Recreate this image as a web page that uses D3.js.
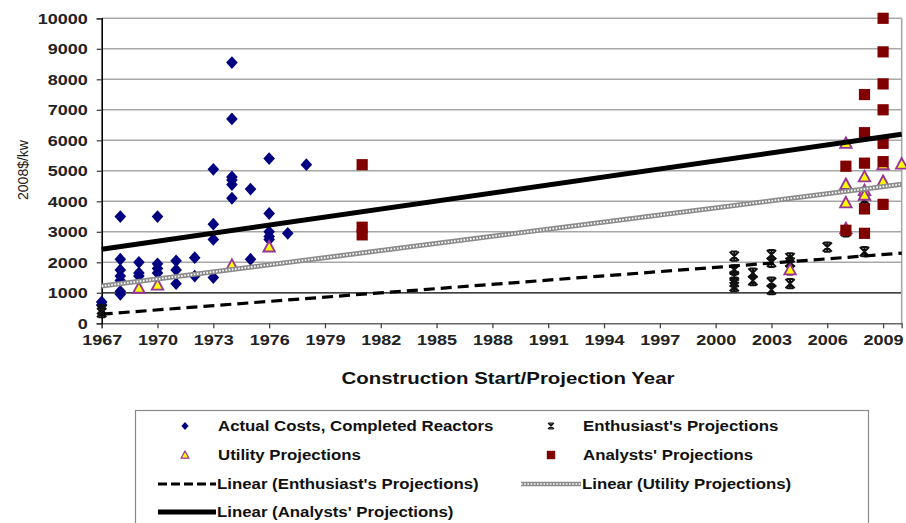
<!DOCTYPE html>
<html><head><meta charset="utf-8">
<script src="https://cdn.jsdelivr.net/npm/d3@7"></script>
<style>body{margin:0;background:#fff}svg{display:block}text{font-family:"Liberation Sans",Arial,sans-serif}</style>
</head><body>
<script>
// ---- data ----
const xTicks = [1967,1970,1973,1976,1979,1982,1985,1988,1991,1994,1997,2000,2003,2006,2009];
const yTicks = [0,1000,2000,3000,4000,5000,6000,7000,8000,9000,10000];
const actualCosts = [
 [1967,700],[1967,600],
 [1968,3500],[1968,2100],[1968,1750],[1968,1550],[1968,1400],[1968,1050],[1968,950],
 [1969,2000],[1969,1650],[1969,1550],
 [1970,3500],[1970,1950],[1970,1800],[1970,1650],
 [1971,2050],[1971,1750],[1971,1300],
 [1972,2150],[1972,1550],
 [1973,5050],[1973,3250],[1973,2750],[1973,1500],
 [1974,8550],[1974,6700],[1974,4800],[1974,4700],[1974,4550],[1974,4100],
 [1975,4400],[1975,2100],
 [1976,5400],[1976,3600],[1976,3000],[1976,2850],[1976,2750],
 [1977,2950],[1978,5200]
];
const enthusiastProj = [
 [1967,450],[1967,350],
 [2001,2200],[2001,1750],[2001,1550],[2001,1350],[2001,1200],
 [2002,1650],[2002,1400],
 [2003,2250],[2003,2000],[2003,1350],[2003,1100],
 [2004,2150],[2004,2000],[2004,1750],[2004,1300],
 [2006,2500],[2007,3000],[2008,2350],[2008,4050]
];
const utilityProj = [
 [1969,1150],[1970,1250],[1974,1900],[1976,2500],[2004,1750],
 [2007,5900],[2007,4550],[2007,3950],[2007,3100],
 [2008,4800],[2008,4350],[2008,4200],
 [2009,5200],[2009,4650],[2010,5220]
];
const analystsProj = [
 [1981,5200],[1981,3150],[1981,2900],
 [2007,5150],[2007,3050],
 [2008,7500],[2008,6250],[2008,5250],[2008,3750],[2008,2950],
 [2009,10000],[2009,8900],[2009,7850],[2009,7000],[2009,5900],[2009,5300],[2009,3900]
];
const enthTrend = [[1967,300],[2010,2300]];
const utilTrend = [[1967,1220],[2010,4560]];
const analTrend = [[1967,2430],[2010,6200]];
const legendItems = [
 {label:"Actual Costs, Completed Reactors", kind:"diamond"},
 {label:"Enthusiast's Projections", kind:"star"},
 {label:"Utility Projections", kind:"triangle"},
 {label:"Analysts' Projections", kind:"square"},
 {label:"Linear (Enthusiast's Projections)", kind:"dash"},
 {label:"Linear (Utility Projections)", kind:"pattern"},
 {label:"Linear (Analysts' Projections)", kind:"solid"}
];

// ---- chart ----
const W=906,H=523;
const svg=d3.select("body").append("svg").attr("width",W).attr("height",H);
const x=d3.scaleLinear().domain([1967,2010]).range([101.7,901.7]);
const y=d3.scaleLinear().domain([0,10000]).range([323.3,18.3]);
const FONT="Liberation Sans, Arial, sans-serif";

// gridlines
svg.append("g").selectAll("line").data(yTicks.filter(d=>d>0)).join("line")
 .attr("x1",x(1967)).attr("x2",x(2010)).attr("y1",d=>y(d)).attr("y2",d=>y(d))
 .attr("stroke",d=>d===1000?"#000":"#a8a8a8").attr("stroke-width",d=>d===1000?1.2:1.6);
svg.append("line").attr("x1",x(2010)).attr("x2",x(2010)).attr("y1",y(10000)).attr("y2",y(0))
 .attr("stroke","#a8a8a8").attr("stroke-width",1.6);

// axes
const xAxis=d3.axisBottom(x).tickValues(xTicks).tickSize(5).tickPadding(6).tickFormat(d3.format("d"));
const gx=svg.append("g").attr("transform",`translate(0,${y(0)})`).call(xAxis);
gx.select(".domain").attr("stroke","#666").attr("stroke-width",1.6);
gx.selectAll(".tick line").attr("stroke","#444").attr("stroke-width",1.3);
gx.selectAll("text").attr("font-size",15).attr("font-weight","bold").attr("fill","#222").attr("font-family",FONT).classed("stretch",true);
const yAxis=d3.axisLeft(y).tickValues(yTicks).tickSize(5).tickPadding(9).tickFormat(d3.format("d"));
const gy=svg.append("g").attr("transform",`translate(${x(1967)},0)`).call(yAxis);
gy.select(".domain").attr("stroke","#000").attr("stroke-width",1.6);
gy.selectAll(".tick line").attr("stroke","#444").attr("stroke-width",1.3);
gy.selectAll("text").attr("font-size",15).attr("font-weight","bold").attr("fill","#222").attr("font-family",FONT).classed("stretch",true);

// marker drawers
function diamond(g,s){ g.append("path").attr("d",`M0,${-s*1.1}L${s},0L0,${s*1.1}L${-s},0Z`).attr("fill","#000080"); }
function triangle(g,s){ g.append("path").attr("d",`M0,${-s}L${s*0.95},${s*0.75}L${-s*0.95},${s*0.75}Z`).attr("fill","#ffff00").attr("stroke","#993399").attr("stroke-width",Math.max(1,s/3.2)); }
function square(g,s){ g.append("rect").attr("x",-s).attr("y",-s).attr("width",2*s).attr("height",2*s).attr("fill","#800000"); }
function star(g,s,w){ g.append("path").attr("d",`M${-s},${-s}L${s},${s}M${s},${-s}L${-s},${s}M0,${-s}L0,${s}M${-s*0.7},${-s}L${s*0.7},${-s}M${-s*0.7},${s}L${s*0.7},${s}`).attr("stroke","#111").attr("stroke-width",w||2).attr("fill","none"); }

function plot(data,fn,s){
 svg.append("g").selectAll("g").data(data).join("g")
  .attr("transform",d=>`translate(${x(d[0])},${y(d[1])})`).each(function(){fn(d3.select(this),s);});
}
plot(actualCosts,diamond,5.8);
plot(enthusiastProj,star,4.6);
plot(utilityProj,triangle,6);
plot(analystsProj,square,5.6);

// trendlines
const line=d3.line().x(d=>x(d[0])).y(d=>y(d[1]));
svg.append("path").datum(enthTrend).attr("d",line).attr("fill","none").attr("stroke","#000").attr("stroke-width",3.2).attr("stroke-dasharray","11,6");
svg.append("path").datum(utilTrend).attr("d",line).attr("fill","none").attr("stroke","#8c8c8c").attr("stroke-width",5);
svg.append("path").datum(utilTrend).attr("d",line).attr("fill","none").attr("stroke","#fff").attr("stroke-width",1.8).attr("stroke-dasharray","1.6,1.6");
svg.append("path").datum(analTrend).attr("d",line).attr("fill","none").attr("stroke","#000").attr("stroke-width",5);

// axis titles
svg.append("text").attr("x",508).attr("y",384).attr("text-anchor","middle").classed("stretch",true)
 .attr("font-size",17).attr("font-weight","bold").attr("fill","#111").text("Construction Start/Projection Year");
svg.append("text").attr("transform","translate(28,170) rotate(-90)").attr("text-anchor","middle")
 .attr("font-size",14).attr("fill","#222").text("2008$/kw");

// legend
svg.append("rect").attr("x",135.5).attr("y",410.5).attr("width",733).attr("height",130)
 .attr("fill","#fff").attr("stroke","#888").attr("stroke-width",1.2);
const rowsY=[426,455,484,512];
const colMarker=[185,551], colText=[218,583], lineStart=[158,521];
legendItems.forEach((it,i)=>{
 const r=Math.floor(i/2), c=i%2, cy=rowsY[r];
 const g=svg.append("g");
 if(["diamond","triangle","square","star"].includes(it.kind)){
  const mg=g.append("g").attr("transform",`translate(${colMarker[c]},${cy})`);
  ({diamond:()=>diamond(mg,3.6),triangle:()=>triangle(mg,4),square:()=>square(mg,4.2),star:()=>star(mg,3,1.1)})[it.kind]();
  g.append("text").attr("x",colText[c]).attr("y",cy+5).attr("font-size",14).attr("font-weight","bold").attr("fill","#111").classed("stretch",true).text(it.label);
 } else {
  const x0=lineStart[c], x1=colText[c]-2;
  if(it.kind==="dash") g.append("line").attr("x1",x0).attr("x2",x1).attr("y1",cy).attr("y2",cy).attr("stroke","#000").attr("stroke-width",3.2).attr("stroke-dasharray","9,4");
  if(it.kind==="solid") g.append("line").attr("x1",x0).attr("x2",x1).attr("y1",cy).attr("y2",cy).attr("stroke","#000").attr("stroke-width",5);
  if(it.kind==="pattern"){
   g.append("line").attr("x1",x0).attr("x2",x1).attr("y1",cy).attr("y2",cy).attr("stroke","#8c8c8c").attr("stroke-width",4.5);
   g.append("line").attr("x1",x0).attr("x2",x1).attr("y1",cy).attr("y2",cy).attr("stroke","#fff").attr("stroke-width",1.6).attr("stroke-dasharray","1.6,1.6");
  }
  g.append("text").attr("x",colText[c]-1).attr("y",cy+5).attr("font-size",14).attr("font-weight","bold").attr("fill","#111").classed("stretch",true).text(it.label);
 }
});
// horizontal stretch to match the reference's wide lettering
svg.selectAll("text.stretch").each(function(){
 const t=d3.select(this); const L=this.getComputedTextLength();
 t.attr("textLength",L*1.2).attr("lengthAdjust","spacingAndGlyphs");
});
</script>
</body></html>
